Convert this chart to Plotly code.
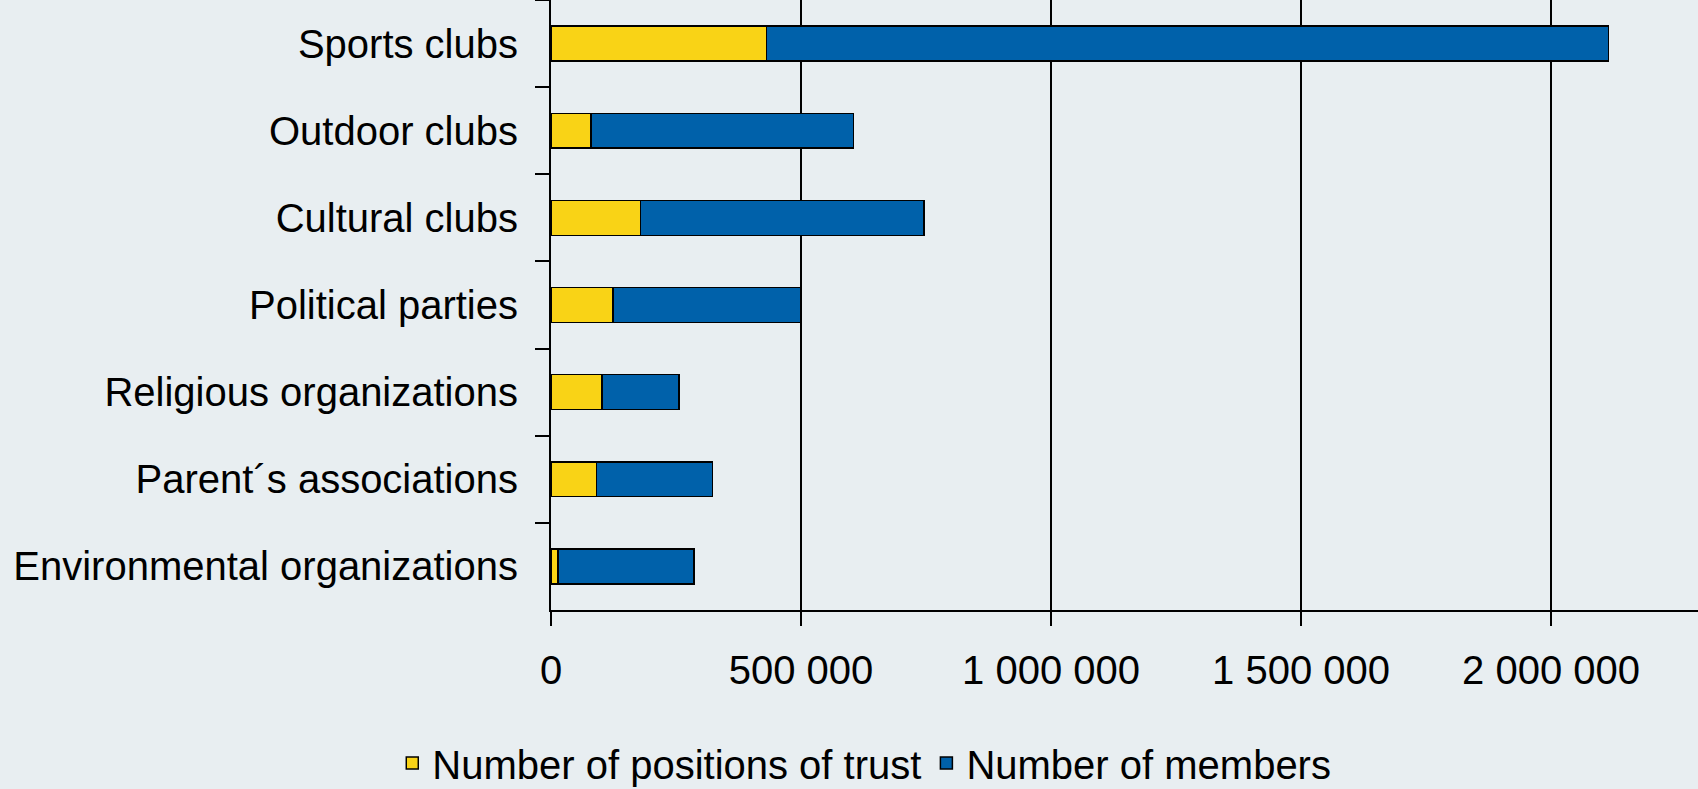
import plotly.graph_objects as go

categories = ["Sports clubs", "Outdoor clubs", "Cultural clubs", "Political parties",
              "Religious organizations", "Parent´s associations", "Environmental organizations"]
positions_of_trust = [431000, 80000, 179000, 124000, 102000, 91000, 14000]
members = [1684000, 525000, 567000, 376000, 154000, 232000, 272000]
tick_vals = [0, 500000, 1000000, 1500000, 2000000]
tick_text = ["0", "500 000", "1 000 000", "1 500 000", "2 000 000"]

YELLOW = "#F9D316"
BLUE = "#0061AA"
BG = "#E8EEF1"
FONT = "Liberation Sans, Arial, sans-serif"

fig = go.Figure()
fig.add_trace(go.Bar(
    y=categories, x=positions_of_trust, orientation="h",
    name="Number of positions of trust",
    marker=dict(color=YELLOW, line=dict(color="black", width=1.5)),
))
fig.add_trace(go.Bar(
    y=categories, x=members, orientation="h",
    name="Number of members",
    marker=dict(color=BLUE, line=dict(color="black", width=1.5)),
))

fig.update_layout(
    barmode="stack",
    bargap=0.6,
    width=1698, height=789,
    margin=dict(l=551, r=0, t=0, b=179),
    paper_bgcolor=BG, plot_bgcolor=BG,
    font=dict(family=FONT, size=40, color="black"),
    showlegend=True,
    legend=dict(orientation="h", xref="container", yref="container",
                x=0.509, y=0.033, xanchor="center", yanchor="middle",
                font=dict(size=40), bgcolor="rgba(0,0,0,0)",
                itemwidth=30, tracegroupgap=0, traceorder="normal"),
    xaxis=dict(range=[0, 2294000], tickvals=tick_vals, ticktext=tick_text,
               showgrid=True, gridcolor="black", gridwidth=1.5,
               showline=True, linecolor="black", linewidth=2,
               ticks="outside", ticklen=14, tickcolor="black", tickwidth=1.5,
               zeroline=False, ticklabelstandoff=10, fixedrange=True),
    yaxis=dict(categoryorder="array", categoryarray=categories, autorange="reversed",
               showgrid=False, showline=True, linecolor="black", linewidth=2,
               ticks="outside", ticklen=14, tickcolor="black", tickwidth=1.5,
               tickson="boundaries", ticklabelstandoff=23, fixedrange=True),
)

fig.write_html("out.html", config={"displayModeBar": False},
               post_script="document.body.style.margin='0';")
